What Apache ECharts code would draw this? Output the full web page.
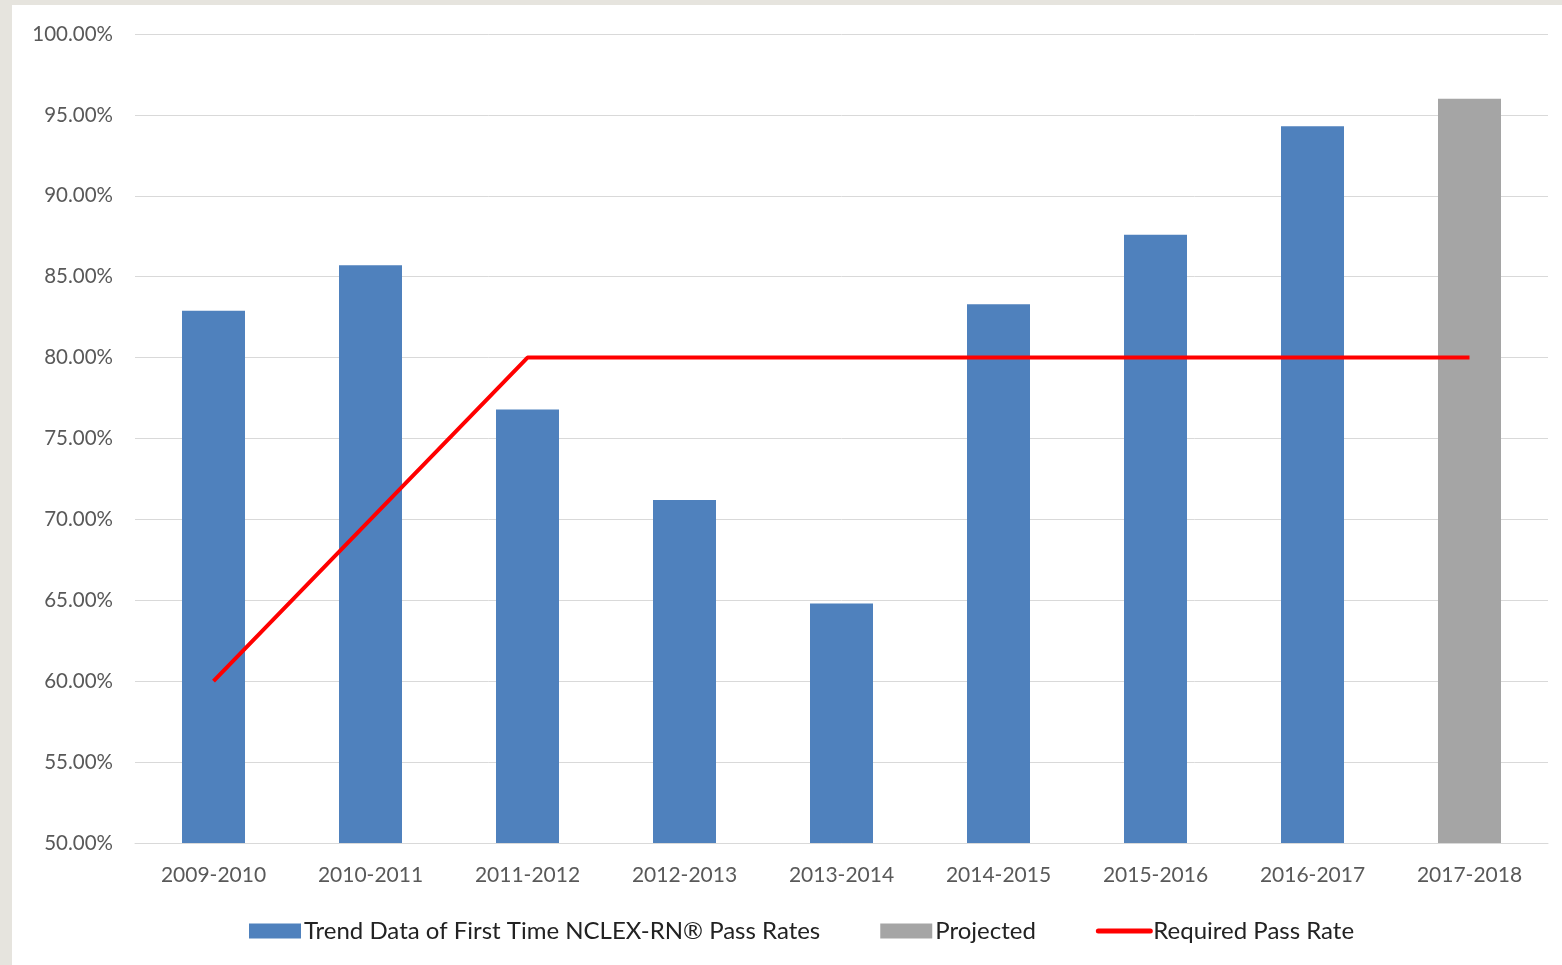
<!DOCTYPE html>
<html><head><meta charset="utf-8">
<script src="https://cdn.jsdelivr.net/npm/echarts@6/dist/echarts.min.js"></script>
<style>
html,body{margin:0;padding:0;background:#e6e4de;}
#wrap{position:absolute;left:12px;top:5px;width:1550px;height:960px;background:#fff;}
#c{position:absolute;left:-12px;top:-5px;width:1562px;height:965px;}
</style></head>
<body><div id="wrap"><div id="c"></div></div>
<script>
const categories = ['2009-2010','2010-2011','2011-2012','2012-2013','2013-2014','2014-2015','2015-2016','2016-2017','2017-2018'];
const passRates = [82.9, 85.7, 76.8, 71.2, 64.8, 83.3, 87.6, 94.3, null];
const projected = [null, null, null, null, null, null, null, null, 96.0];
const requiredRate = [60, 70, 80, 80, 80, 80, 80, 80, 80];

const chart = echarts.init(document.getElementById('c'));
const font = 'Lato, "Open Sans", sans-serif';
chart.setOption({
  animation: false,
  grid: {left: 135, right: 14, top: 34, bottom: 122, containLabel: false},
  legend: {
    bottom: 17, left: 244, itemGap: 60, itemWidth: 52, itemHeight: 15,
    textStyle: {fontFamily: font, fontSize: 24, color: '#222', padding:[0,0,0,-2]},
    data: [
      {name: 'Trend Data of First Time NCLEX-RN® Pass Rates', icon: 'rect'},
      {name: 'Projected', icon: 'rect'},
      {name: 'Required Pass Rate', itemStyle: {opacity: 0}, lineStyle: {width: 5, color: '#ff0000', cap: 'round'}}
    ]
  },
  xAxis: {
    type: 'category', data: categories,
    axisLine: {lineStyle: {color: '#d9d9d9'}}, axisTick: {show: false},
    axisLabel: {fontFamily: font, fontSize: 21, color: '#595959', margin: 22}
  },
  yAxis: {
    type: 'value', min: 50, max: 100, interval: 5,
    axisLine: {show: false}, axisTick: {show: false},
    splitLine: {lineStyle: {color: '#d9d9d9'}},
    axisLabel: {fontFamily: font, fontSize: 20.5, color: '#595959', margin: 22,
      formatter: v => v.toFixed(2) + '%'}
  },
  series: [
    {name: 'Trend Data of First Time NCLEX-RN® Pass Rates', type: 'bar', data: passRates,
     barWidth: 63, barGap: '-100%', itemStyle: {color: '#4f81bd'}},
    {name: 'Projected', type: 'bar', data: projected, barWidth: 63,
     itemStyle: {color: '#a5a5a5'}},
    {name: 'Required Pass Rate', type: 'line', data: requiredRate, symbol: 'none',
     lineStyle: {color: '#ff0000', width: 4}, itemStyle: {color: '#ff0000'}}
  ]
});
</script></body></html>
